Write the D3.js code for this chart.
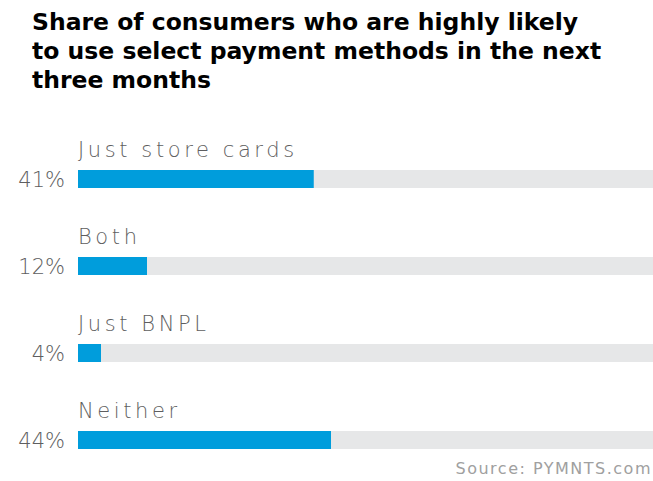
<!DOCTYPE html>
<html>
<head>
<meta charset="utf-8">
<script src="https://cdn.jsdelivr.net/npm/d3@7"></script>
<style>
  html,body{margin:0;padding:0;background:#fff;}
  svg{display:block;}
</style>
</head>
<body>
<div id="chart"></div>
<script>
const categories=["Just store cards","Both","Just BNPL","Neither"];
const values=[41,12,4,44];
const titleLines=["Share of consumers who are highly likely","to use select payment methods in the next","three months"];
const source="Source: PYMNTS.com";

(function(){
  const W=653,H=481;
  const svg=d3.select("#chart").append("svg").attr("width",W).attr("height",H);

  svg.append("g").selectAll("text")
    .data(titleLines).join("text")
    .attr("x",32).attr("y",(d,i)=>30+i*29)
    .attr("font-family","'DejaVu Sans', sans-serif")
    .attr("font-weight",700).attr("font-size",23.5)
    .attr("fill","#000")
    .text(d=>d);

  const x=d3.scaleLinear().domain([0,100]).range([78,653]);
  const y=d3.scaleBand().domain(categories).range([131,479]).paddingInner(0);
  const barH=18;
  const labelFont="'DejaVu Sans', sans-serif";

  const rows=svg.append("g").selectAll("g")
    .data(categories.map((c,i)=>({c,v:values[i]}))).join("g")
    .attr("transform",d=>`translate(0,${y(d.c)})`);

  rows.append("rect")
    .attr("x",x(0)).attr("y",39).attr("width",x(100)-x(0)).attr("height",barH)
    .attr("fill","#e6e7e8");
  rows.append("rect")
    .attr("x",x(0)).attr("y",39).attr("width",d=>x(d.v)-x(0)).attr("height",barH)
    .attr("fill","#009ddc");
  // category label above each track
  rows.append("text")
    .attr("x",x(0)).attr("y",26)
    .attr("font-family",labelFont).attr("font-weight",200)
    .attr("font-size",21).attr("letter-spacing",3.6).attr("fill","#5e5e60")
    .text(d=>d.c);
  rows.append("text")
    .attr("x",65).attr("y",56).attr("text-anchor","end")
    .attr("font-family",labelFont).attr("font-weight",200)
    .attr("font-size",21).attr("fill","#5e5e60")
    .text(d=>d.v+"%");

  svg.append("text")
    .attr("x",652).attr("y",474).attr("text-anchor","end")
    .attr("font-family",labelFont)
    .attr("font-size",16).attr("letter-spacing",1.5).attr("fill","#a0a0a0")
    .text(source);
})();
</script>
</body>
</html>
